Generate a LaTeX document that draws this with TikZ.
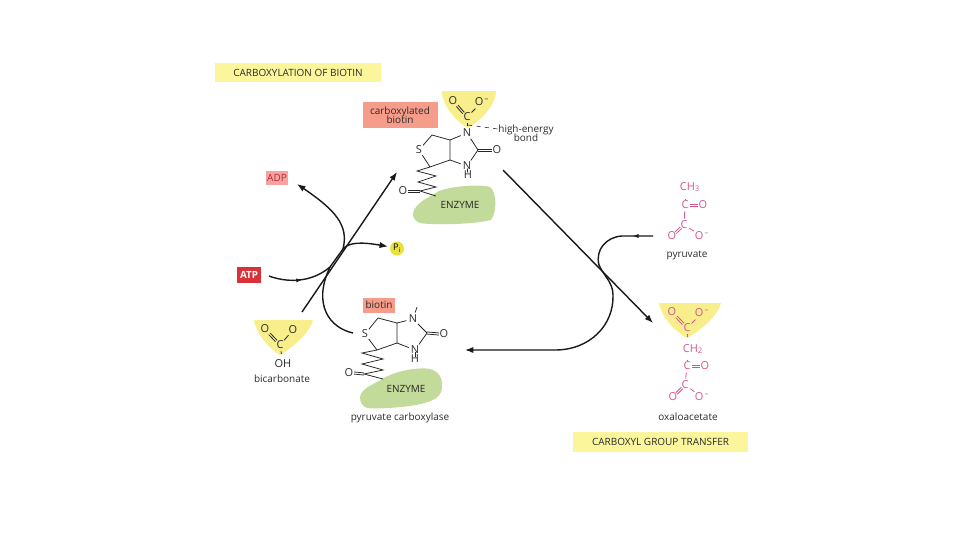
\documentclass[tikz,border=0pt]{standalone}
\usepackage{fontspec}
\setmainfont{Open Sans}
\usetikzlibrary{arrows.meta,decorations.markings,calc}
\definecolor{hdryellow}{HTML}{FBF59B}
\definecolor{blobyellow}{HTML}{F8EE8C}
\definecolor{enzgreen}{HTML}{C3DB9A}
\definecolor{biosalmon}{HTML}{F69C8A}
\definecolor{adpred}{HTML}{F6A3A3}
\definecolor{atpred}{HTML}{DC3038}
\definecolor{pigold}{HTML}{EBE13C}
\definecolor{pinkatom}{HTML}{D2558C}
\definecolor{inktext}{HTML}{2B2B2B}
\tikzset{
  atom/.style={circle,inner sep=0.4pt,text=inktext,font=\fontsize{7.8}{9}\selectfont},
  patom/.style={atom,text=pinkatom},
  bond/.style={line width=0.55pt,draw=black!85},
  pbond/.style={line width=0.55pt,draw=pinkatom},
  plain/.style={text=inktext,font=\fontsize{7.1}{7.9}\selectfont,inner sep=0pt,align=center},
  arrowline/.style={line width=1pt,draw=black!90,-{Latex[length=6pt,width=4.5pt]}},
  midtip/.style={postaction={decorate,decoration={markings,
    mark=at position #1 with {\arrow{Latex[length=4pt,width=3pt]}}}}},
  vertex/.style={inner sep=0pt,minimum size=0pt}
}
\newcommand{\minus}{\textsuperscript{\,–}}
% two parallel strokes between two named points
\newcommand{\dblbond}[3][bond]{%
  \draw[#1] ($(#2)!0.75pt!90:(#3)$) -- ($(#3)!0.75pt!-90:(#2)$);
  \draw[#1] ($(#2)!0.75pt!-90:(#3)$) -- ($(#3)!0.75pt!90:(#2)$);}
\begin{document}
\begin{tikzpicture}[x=0.025cm,y=-0.025cm]
\useasboundingbox (0,0) rectangle (960,540);
% ---- headers ----
\node[plain,fill=hdryellow,minimum width=166*0.025cm,minimum height=19*0.025cm] (hdrbiotin) at (298,72.5) {CARBOXYLATION OF BIOTIN};
\node[plain,fill=hdryellow,minimum width=175*0.025cm,minimum height=20*0.025cm] (hdrtransfer) at (660.5,442) {CARBOXYL GROUP TRANSFER};
% ---- carboxylated biotin ----
\fill[blobyellow] (442,91) -- (496,91) .. controls (496,106) and (479,122) .. (468,128) .. controls (457,122) and (442,106) .. (442,91) -- cycle;
\fill[enzgreen] (413,214) .. controls (414,203) and (430,197) .. (439,191) .. controls (452,186) and (480,184) .. (490,187) .. controls (497,192) and (497,212) .. (491,220) .. controls (470,225) and (430,225) .. (420,223) .. controls (415,221) and (413,218) .. (413,214) -- cycle;
\node[plain,fill=biosalmon,minimum width=75*0.025cm,minimum height=26*0.025cm] (cbtag) at (400,115) {carboxylated\\[-1.5pt]biotin};
\node[atom] (cbO1) at (453,101) {O};
\node[atom] (cbO2) at (482,102) {O\minus};
\node[atom] (cbC) at (467,117) {C};
\node[atom] (cbN) at (467,133) {N};
\node[atom] (cbNH) at (467,166) {N};
\node[atom] (cbH) at (468,175) {H};
\node[atom] (cbOk) at (497,150) {O};
\node[atom] (cbS) at (419,150) {S};
\node[atom] (cbOz) at (403,191) {O};
\node[plain] (cbbond) at (526,133.5) {high-energy\\[-1.5pt]bond};
\coordinate (cbdash) at (468,125);
\coordinate (cbdashend) at (498,129);
\node[vertex] (cbr1) at (432,135) {};
\node[vertex] (cbr2) at (450,140) {};
\node[vertex] (cbr3) at (450,160) {};
\node[vertex] (cbr4) at (430,167) {};
\node[vertex] (cbk) at (478,150) {};
\node[vertex] (cbz1) at (417,171) {};
\node[vertex] (cbz2) at (436,176) {};
\node[vertex] (cbz3) at (418,182) {};
\node[vertex] (cbz4) at (436,187) {};
\node[vertex] (cbz5) at (420,191) {};
\node[vertex] (cbz6) at (436,196) {};
\coordinate (cbO1a) at ($(cbO1)!0.3!(cbC)$);
\coordinate (cbO1b) at ($(cbO1)!0.75!(cbC)$);
\dblbond{cbO1a}{cbO1b}
\draw[bond] (cbO2) -- (cbC);
\draw[bond] (cbC) -- (cbN);
\draw[bond] (cbN) -- (cbr2.center) -- (cbr3.center) -- (cbNH);
\draw[bond] (cbN) -- (cbk.center) -- (cbNH);
\draw[bond] (cbNH) -- (cbH);
\coordinate (cbOka) at ($(cbOk)+(-5,0)$);
\dblbond{cbk}{cbOka}
\draw[bond] (cbS) -- (cbr1.center) -- (cbr2.center);
\draw[bond] (cbS) -- (cbr4.center) -- (cbr3.center);
\draw[bond] (cbr4.center) -- (cbz1.center) -- (cbz2.center) -- (cbz3.center) -- (cbz4.center) -- (cbz5.center) -- (cbz6.center);
\coordinate (cbOza) at ($(cbOz)+(5,0)$);
\dblbond{cbOza}{cbz5}
\draw[bond,dashed,line width=0.4pt] (cbdash) -- (cbdashend);
\node[plain,text=black!85] (cbenz) at (460,205) {ENZYME};
% ---- biotin on pyruvate carboxylase ----
\fill[blobyellow] (254,320) -- (313,320) .. controls (310,333) and (292,348) .. (280,355) .. controls (268,348) and (256,333) .. (254,320) -- cycle;
\fill[enzgreen] (360,397) .. controls (361,388) and (375,384) .. (384,378) .. controls (398,370) and (420,367) .. (430,369) .. controls (442,372) and (444,384) .. (441,392) .. controls (438,402) and (418,405) .. (402,407) .. controls (390,408) and (375,409) .. (367,408) .. controls (362,406) and (360,402) .. (360,397) -- cycle;
\node[plain,fill=biosalmon,minimum width=32*0.025cm,minimum height=15*0.025cm] (btag) at (379,305) {biotin};
\node[atom] (bS) at (365,334) {S};
\node[atom] (bN1) at (413,319) {N};
\node[atom] (bN2) at (415,350) {N};
\node[atom] (bH) at (415,359) {H};
\node[atom] (bOk) at (444,334) {O};
\node[atom] (bOz) at (349,373) {O};
\node[vertex] (br1) at (378,318) {};
\node[vertex] (br2) at (397,323) {};
\node[vertex] (br3) at (397,343) {};
\node[vertex] (br4) at (377,350) {};
\node[vertex] (bk) at (427,333) {};
\node[vertex] (bup) at (417,307) {};
\node[vertex] (bz1) at (362,353) {};
\node[vertex] (bz2) at (383,359) {};
\node[vertex] (bz3) at (362,364) {};
\node[vertex] (bz4) at (383,370) {};
\node[vertex] (bz5) at (364,374) {};
\node[vertex] (bz6) at (383,379) {};
\draw[bond] (bN1) -- (bup.center);
\draw[bond] (bN1) -- (br2.center) -- (br3.center) -- (bN2);
\draw[bond] (bN1) -- (bk.center) -- (bN2);
\draw[bond] (bN2) -- (bH);
\coordinate (bOka) at ($(bOk)+(-5,0)$);
\dblbond{bk}{bOka}
\draw[bond] (bS) -- (br1.center) -- (br2.center);
\draw[bond] (bS) -- (br4.center) -- (br3.center);
\draw[bond] (br4.center) -- (bz1.center) -- (bz2.center) -- (bz3.center) -- (bz4.center) -- (bz5.center) -- (bz6.center);
\coordinate (bOza) at ($(bOz)+(5,0)$);
\dblbond{bOza}{bz5}
\node[plain,text=black!85] (benz) at (406,389) {ENZYME};
\node[plain] (bname) at (400,418) {pyruvate carboxylase};
% ---- bicarbonate ----
\node[atom] (hcO1) at (265,329) {O};
\node[atom] (hcO2) at (293,330) {O};
\node[atom] (hcC) at (280,345) {C};
\node[atom] (hcOH) at (283,364) {OH};
\node[plain] (hcname) at (282,379) {bicarbonate};
\coordinate (hcO1a) at ($(hcO1)!0.3!(hcC)$);
\coordinate (hcO1b) at ($(hcO1)!0.75!(hcC)$);
\dblbond{hcO1a}{hcO1b}
\draw[bond] (hcO2) -- (hcC);
\draw[bond] (hcC) -- (hcOH);
% ---- ATP, ADP, Pi ----
\node[plain,fill=adpred,text=atpred!85!black,minimum width=22*0.025cm,minimum height=14*0.025cm] (adp) at (277,178) {ADP};
\node[plain,fill=atpred,text=white,minimum width=24*0.025cm,minimum height=16*0.025cm,font=\fontsize{7}{8}\selectfont\bfseries] (atp) at (249,274.5) {ATP};
\node[circle,fill=pigold,inner sep=0pt,minimum size=14*0.025cm,text=black,font=\fontsize{6.5}{7}\selectfont] (pi) at (397,248.5) {P\textsubscript{i}};
\coordinate (hub) at (343,249);
\coordinate (cross) at (330,267);
\coordinate (atpend) at (269,276);
\coordinate (adpend) at (297,184);
\coordinate (cbend) at (397,172);
\coordinate (hcend) at (302,312);
\coordinate (bend) at (353,333);
\draw[arrowline,midtip=0.25] (atpend) .. controls (285,282) and (310,284) .. (cross) -- (hub) .. controls (349,242) and (362,242) .. (388,246.5);
\draw[arrowline] (hub) .. controls (349,225) and (335,210) .. (adpend);
\draw[arrowline] (hcend) -- (cbend);
\draw[line width=1pt,draw=black!90] (bend) .. controls (330,328) and (312,305) .. (cross);
% ---- pyruvate ----
\node[patom] (pyCH3) at (690,187) {CH\textsubscript{3}};
\node[patom] (pyC1) at (685,205) {C};
\node[patom] (pyO1) at (703,205) {O};
\node[patom] (pyC2) at (684,225) {C};
\node[patom] (pyO2) at (672,236) {O};
\node[patom] (pyO3) at (702,236) {O\minus};
\node[plain] (pyname) at (687,255) {pyruvate};
\draw[pbond] (pyCH3.south -| pyC1) -- (pyC1);
\coordinate (pyC1a) at ($(pyC1)+(5,0)$);
\coordinate (pyO1a) at ($(pyO1)+(-5,0)$);
\dblbond[pbond]{pyC1a}{pyO1a}
\draw[pbond] (pyC1) -- (pyC2);
\coordinate (pyO2a) at ($(pyO2)!0.3!(pyC2)$);
\coordinate (pyO2b) at ($(pyO2)!0.75!(pyC2)$);
\dblbond[pbond]{pyO2a}{pyO2b}
\draw[pbond] (pyC2) -- (pyO3);
% ---- oxaloacetate ----
\fill[blobyellow] (659,303) -- (721,303) .. controls (718,316) and (700,331) .. (687,338) .. controls (674,331) and (661,316) .. (659,303) -- cycle;
\node[patom] (oxO1) at (672,312) {O};
\node[patom] (oxO2) at (702,313) {O\minus};
\node[patom] (oxC1) at (687,328) {C};
\node[patom] (oxCH2) at (693,349) {CH\textsubscript{2}};
\node[patom] (oxC2) at (687,366) {C};
\node[patom] (oxO3) at (705,366) {O};
\node[patom] (oxC3) at (685,385) {C};
\node[patom] (oxO4) at (673,397) {O};
\node[patom] (oxO5) at (702,397) {O\minus};
\node[plain] (oxname) at (688,417) {oxaloacetate};
\coordinate (oxO1a) at ($(oxO1)!0.3!(oxC1)$);
\coordinate (oxO1b) at ($(oxO1)!0.75!(oxC1)$);
\dblbond[pbond]{oxO1a}{oxO1b}
\draw[pbond] (oxO2) -- (oxC1);
\draw[pbond] (oxC1) -- (oxCH2.north -| oxC1);
\draw[pbond] (oxCH2.south -| oxC2) -- (oxC2);
\coordinate (oxC2a) at ($(oxC2)+(5,0)$);
\coordinate (oxO3a) at ($(oxO3)+(-5,0)$);
\dblbond[pbond]{oxC2a}{oxO3a}
\draw[pbond] (oxC2) -- (oxC3);
\coordinate (oxO4a) at ($(oxO4)!0.3!(oxC3)$);
\coordinate (oxO4b) at ($(oxO4)!0.75!(oxC3)$);
\dblbond[pbond]{oxO4a}{oxO4b}
\draw[pbond] (oxC3) -- (oxO5);
% ---- carboxyl transfer ----
\coordinate (pyend) at (653,236);
\coordinate (bioend) at (465,350);
\coordinate (cbstart) at (503,170);
\coordinate (oxend) at (653,323);
\draw[arrowline,midtip=0.07] (pyend) -- (622,236) .. controls (606,237) and (595,250) .. (599,265) .. controls (603,275) and (613,282) .. (613,295) .. controls (614,325) and (590,350) .. (555,350) -- (bioend);
\draw[arrowline] (cbstart) -- (oxend);
\end{tikzpicture}
\end{document}
